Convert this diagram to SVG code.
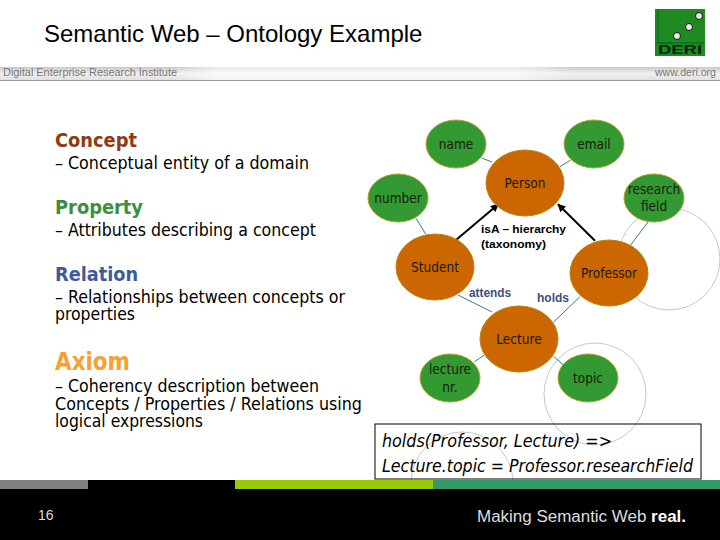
<svg xmlns="http://www.w3.org/2000/svg" width="720" height="540" viewBox="0 0 720 540">
<defs>
<linearGradient id="band" x1="0" y1="0" x2="0" y2="1"><stop offset="0" stop-color="#c8c8c8"/><stop offset="0.5" stop-color="#f0f0f0"/><stop offset="1" stop-color="#e0e0e0"/></linearGradient>
<linearGradient id="fade" x1="0" y1="0" x2="1" y2="0"><stop offset="0.24" stop-color="#fff" stop-opacity="0"/><stop offset="0.3" stop-color="#fff" stop-opacity="0.6"/><stop offset="0.72" stop-color="#fff" stop-opacity="0.6"/><stop offset="0.8" stop-color="#fff" stop-opacity="0"/></linearGradient>
<marker id="ah" viewBox="0 0 10 10" refX="9" refY="5" markerWidth="4.5" markerHeight="4" orient="auto" markerUnits="strokeWidth"><path d="M0 0L10 5L0 10z" fill="#000"/></marker>
</defs>
<style>
text{font-family:"Liberation Sans",Arial,sans-serif}
.c{fill:#cc6600;stroke:#b8860b;stroke-width:1}
.p{fill:#339933;stroke:#b8a030;stroke-width:1}
.l{font-family:"DejaVu Sans Condensed","DejaVu Sans",sans-serif;font-size:13.5px;text-anchor:middle;fill:#1a1a0a}
.g{fill:none;stroke:#c8c8c8;stroke-width:1}
.e{stroke:#2f7f7f;stroke-width:1;fill:none}
.a{stroke:#000;stroke-width:2;fill:none;marker-end:url(#ah)}
.b{font-family:"DejaVu Sans Condensed","DejaVu Sans",sans-serif;font-size:18px;fill:#000}
.h{font-family:"DejaVu Sans Condensed","DejaVu Sans",sans-serif;font-weight:bold}
.r{font-size:12px;font-weight:bold;fill:#3d5080}
.i{font-family:"DejaVu Sans Condensed","DejaVu Sans",sans-serif;font-size:18px;font-style:italic;fill:#000}
</style>
<rect width="720" height="540" fill="#fff"/>
<g id="header">
<rect x="0" y="67" width="720" height="13" fill="url(#band)"/>
<rect x="0" y="67" width="720" height="13" fill="url(#fade)"/>
<rect x="0" y="80" width="720" height="1" fill="#999"/>
<text x="3" y="76" font-size="10" fill="#777" textLength="174" lengthAdjust="spacingAndGlyphs">Digital Enterprise Research Institute</text>
<text x="655" y="76" font-size="10" fill="#777" textLength="61" lengthAdjust="spacingAndGlyphs">www.deri.org</text>
<text x="44" y="42" font-size="24" fill="#000">Semantic Web – Ontology Example</text>
</g>
<g id="logo">
<rect x="655" y="9" width="50" height="47" fill="#1f8a1f"/>
<path d="M658 10V43H672M656 43H704" stroke="#063" fill="none"/>
<circle cx="699" cy="16" r="3.5" fill="#eee" stroke="#111"/><circle cx="689" cy="27" r="3.5" fill="#eee" stroke="#111"/><circle cx="677" cy="36" r="3.5" fill="#eee" stroke="#111"/>
<text x="680" y="54" font-size="12" font-weight="bold" text-anchor="middle" fill="#021" textLength="44" lengthAdjust="spacingAndGlyphs">DERI</text>
</g>
<g id="text">
<text x="55" y="147" font-size="20" fill="#8f3a10" class="h" textLength="82" lengthAdjust="spacingAndGlyphs">Concept</text>
<text x="55" y="169" class="b" textLength="254" lengthAdjust="spacingAndGlyphs">– Conceptual entity of a domain</text>
<text x="55" y="214" font-size="20" fill="#3a9040" class="h" textLength="88" lengthAdjust="spacingAndGlyphs">Property</text>
<text x="55" y="236" class="b" textLength="261" lengthAdjust="spacingAndGlyphs">– Attributes describing a concept</text>
<text x="55" y="281" font-size="20" fill="#3d5a99" class="h" textLength="83" lengthAdjust="spacingAndGlyphs">Relation</text>
<text x="55" y="303" class="b" textLength="290" lengthAdjust="spacingAndGlyphs">– Relationships between concepts or</text>
<text x="55" y="320" class="b" textLength="80" lengthAdjust="spacingAndGlyphs">properties</text>
<text x="55" y="370" font-size="24" fill="#f5a030" class="h" textLength="75" lengthAdjust="spacingAndGlyphs">Axiom</text>
<text x="55" y="392" class="b" textLength="264" lengthAdjust="spacingAndGlyphs">– Coherency description between</text>
<text x="55" y="410" class="b" textLength="307" lengthAdjust="spacingAndGlyphs">Concepts / Properties / Relations using</text>
<text x="55" y="427" class="b" textLength="148" lengthAdjust="spacingAndGlyphs">logical expressions</text>
</g>
<g id="circles">
<circle class="g" cx="669" cy="259" r="51"/>
<circle class="g" cx="595" cy="394" r="51"/>
<circle class="g" cx="462" cy="483" r="51"/>
</g>
<g id="connectors">
<path class="e" d="M481.7 158L492 162"/>
<path class="e" d="M560 166.7L570.7 160"/>
<path class="e" d="M416 218.3L425.7 234"/>
<path class="e" d="M648 222L630.7 245"/>
<path class="e" d="M458 295L492 312"/>
<path class="e" d="M580 296.7L553.3 322.3"/>
<path class="e" d="M474.3 361.7L484 355.3"/>
<path class="e" d="M553.3 356L563.3 365"/>
<path class="a" d="M456 240L498.3 204.3"/>
<path class="a" d="M595 240.7L558 204.3"/>
</g>
<g id="name"><ellipse class="p" cx="456" cy="144" rx="30" ry="24"/><text class="l" x="456" y="149">name</text></g>
<g id="email"><ellipse class="p" cx="594" cy="144" rx="30" ry="24"/><text class="l" x="594" y="149">email</text></g>
<g id="person"><ellipse class="c" cx="525" cy="183" rx="39" ry="33"/><text class="l" x="525" y="188">Person</text></g>
<g id="number"><ellipse class="p" cx="398" cy="198" rx="30" ry="24"/><text class="l" x="398" y="203">number</text></g>
<g id="research"><ellipse class="p" cx="654" cy="198" rx="30" ry="24"/><text class="l" x="654" y="194">research</text><text class="l" x="654" y="211">field</text></g>
<g id="student"><ellipse class="c" cx="435" cy="267" rx="39" ry="33"/><text class="l" x="435" y="272">Student</text></g>
<g id="professor"><ellipse class="c" cx="609" cy="273" rx="39" ry="33"/><text class="l" x="609" y="278">Professor</text></g>
<g id="lecture"><ellipse class="c" cx="519" cy="339" rx="39" ry="33"/><text class="l" x="519" y="344">Lecture</text></g>
<g id="lecturenr"><ellipse class="p" cx="450" cy="378" rx="30" ry="24"/><text class="l" x="450" y="374">lecture</text><text class="l" x="450" y="392">nr.</text></g>
<g id="topic"><ellipse class="p" cx="588" cy="378" rx="30" ry="24"/><text class="l" x="588" y="383">topic</text></g>
<g id="labels">
<text x="481" y="233" font-size="11.5" font-weight="bold" textLength="85" lengthAdjust="spacingAndGlyphs">isA – hierarchy</text>
<text x="481" y="248" font-size="11.5" font-weight="bold" textLength="65" lengthAdjust="spacingAndGlyphs">(taxonomy)</text>
<text x="469" y="297" class="r" textLength="42" lengthAdjust="spacingAndGlyphs">attends</text>
<text x="537" y="302" class="r" textLength="32" lengthAdjust="spacingAndGlyphs">holds</text>
</g>
<g id="axiom">
<rect x="375" y="424" width="326" height="55" fill="none" stroke="#000"/>
<text x="382" y="447" class="i" textLength="230" lengthAdjust="spacingAndGlyphs">holds(Professor, Lecture) =&gt;</text>
<text x="382" y="472" class="i" textLength="311" lengthAdjust="spacingAndGlyphs">Lecture.topic = Professor.researchField</text>
</g>
<g id="footer">
<rect x="0" y="480" width="720" height="60" fill="#000"/>
<rect x="0" y="480" width="88" height="9" fill="#808080"/>
<rect x="235" y="480" width="198" height="9" fill="#99cc00"/>
<rect x="433" y="480" width="287" height="9" fill="#339966"/>
<text x="38" y="520" font-size="14" fill="#ddd">16</text>
<text x="477" y="522" font-size="16" fill="#ddd" textLength="209" lengthAdjust="spacingAndGlyphs">Making Semantic Web <tspan font-weight="bold" fill="#fff">real.</tspan></text>
</g>
</svg>
